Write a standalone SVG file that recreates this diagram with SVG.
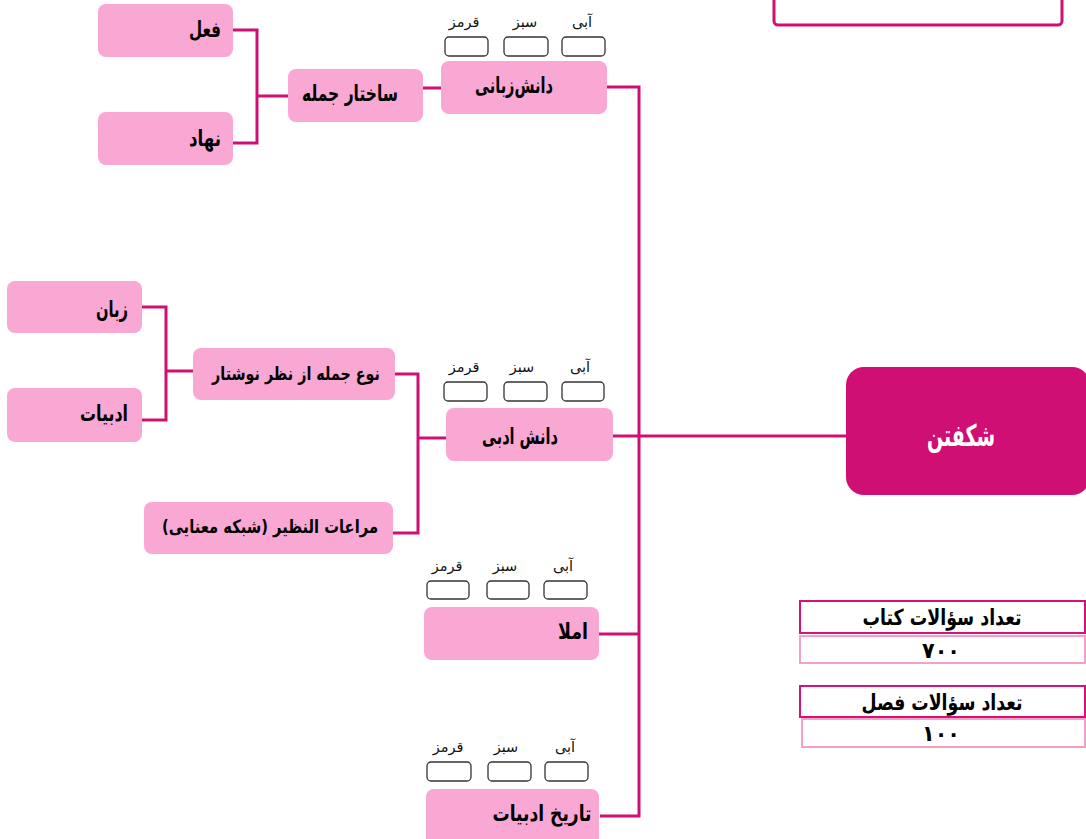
<svg xmlns="http://www.w3.org/2000/svg" width="1086" height="839" viewBox="0 0 1086 839">
<style>
text{font-family:"DejaVu Sans",sans-serif}
.t{direction:rtl;unicode-bidi:embed;font-size:22px;font-weight:bold;fill:#000}
.n{fill:#f9a8d4}
.c{text-anchor:middle}
.cb{fill:#fff;stroke:#333;stroke-width:1.3}
.cl{font-size:14.5px;fill:#111;text-anchor:middle}
.ln{stroke:#cf0f73;stroke-width:3;fill:none}
.tb1{fill:#fff;stroke:#d4127a;stroke-width:2}
.tb2{fill:#fff;stroke:#f4a0c9;stroke-width:2}
</style>
<rect x="774" y="-10" width="288" height="35" rx="4" fill="#fff" stroke="#cf0f73" stroke-width="3"/>
<g id="connectors" class="ln">
<polyline points="233,30 257,30 257,143 233,143"/>
<line x1="257" y1="96" x2="288" y2="96"/>
<line x1="423" y1="88" x2="446" y2="88"/>
<polyline points="607,87 639,87 639,816 600,816"/>
<line x1="613" y1="436" x2="846" y2="436"/>
<line x1="599" y1="634" x2="639" y2="634"/>
<polyline points="395,374 418,374 418,533 393,533"/>
<line x1="418" y1="438" x2="446" y2="438"/>
<polyline points="142,307 166,307 166,420 142,420"/>
<line x1="166" y1="371" x2="193" y2="371"/>
</g>
<g id="n-fel"><rect class="n" x="98" y="4" width="135" height="53" rx="8"/><text class="t c" x="205" y="37" textLength="32" lengthAdjust="spacingAndGlyphs">فعل</text></g>
<g id="n-nahad"><rect class="n" x="98" y="112" width="135" height="53" rx="8"/><text class="t c" x="205" y="146" textLength="32" lengthAdjust="spacingAndGlyphs">نهاد</text></g>
<g id="n-sakhtar"><rect class="n" x="288" y="69" width="135" height="53" rx="8"/><text class="t c" x="350" y="101" textLength="96" lengthAdjust="spacingAndGlyphs">ساختار جمله</text></g>
<g id="n-zabani"><rect class="n" x="441" y="61" width="166" height="53" rx="8"/><text class="t c" x="514" y="93" textLength="78" lengthAdjust="spacingAndGlyphs">دانش&#x200C;زبانی</text>
<rect class="cb" x="445" y="37" width="43" height="19" rx="4"/><rect class="cb" x="504" y="37" width="44" height="19" rx="4"/><rect class="cb" x="562" y="37" width="43" height="19" rx="4"/>
<text class="cl" x="464" y="27">قرمز</text><text class="cl" x="525" y="27">سبز</text><text class="cl" x="582" y="27">آبی</text></g>
<g id="n-zaban"><rect class="n" x="7" y="281" width="135" height="52" rx="8"/><text class="t c" x="112" y="317" textLength="32" lengthAdjust="spacingAndGlyphs">زبان</text></g>
<g id="n-adabiat"><rect class="n" x="7" y="388" width="135" height="54" rx="8"/><text class="t c" x="104" y="421" textLength="48" lengthAdjust="spacingAndGlyphs">ادبیات</text></g>
<g id="n-noe"><rect class="n" x="193" y="348" width="202" height="52" rx="8"/><text class="t c" x="296" y="380" style="font-size:18.5px" textLength="168" lengthAdjust="spacingAndGlyphs">نوع جمله از نظر نوشتار</text></g>
<g id="n-moraat"><rect class="n" x="144" y="502" width="249" height="52" rx="8"/><text class="t c" x="270" y="533" style="font-size:18.5px" textLength="216" lengthAdjust="spacingAndGlyphs">مراعات النظیر (شبکه معنایی)</text></g>
<g id="n-adabi"><rect class="n" x="446" y="408" width="167" height="53" rx="8"/><text class="t c" x="520" y="444" textLength="76" lengthAdjust="spacingAndGlyphs">دانش ادبی</text>
<rect class="cb" x="444" y="382" width="43" height="19" rx="4"/><rect class="cb" x="504" y="382" width="43" height="19" rx="4"/><rect class="cb" x="562" y="382" width="42" height="19" rx="4"/>
<text class="cl" x="464" y="372">قرمز</text><text class="cl" x="522" y="372">سبز</text><text class="cl" x="580" y="372">آبی</text></g>
<g id="n-imla"><rect class="n" x="424" y="607" width="175" height="53" rx="8"/><text class="t c" x="573" y="639" textLength="30" lengthAdjust="spacingAndGlyphs">املا</text>
<rect class="cb" x="427" y="581" width="42" height="18" rx="4"/><rect class="cb" x="487" y="581" width="42" height="18" rx="4"/><rect class="cb" x="544" y="581" width="43" height="18" rx="4"/>
<text class="cl" x="447" y="571">قرمز</text><text class="cl" x="505" y="571">سبز</text><text class="cl" x="563" y="571">آبی</text></g>
<g id="n-tarikh"><rect class="n" x="426" y="789" width="173" height="60" rx="8"/><text class="t c" x="542" y="821" textLength="99" lengthAdjust="spacingAndGlyphs">تاریخ ادبیات</text>
<rect class="cb" x="427" y="762" width="44" height="19" rx="4"/><rect class="cb" x="488" y="762" width="43" height="19" rx="4"/><rect class="cb" x="545" y="762" width="43" height="19" rx="4"/>
<text class="cl" x="448" y="752">قرمز</text><text class="cl" x="506" y="752">سبز</text><text class="cl" x="565" y="752">آبی</text></g>
<g id="n-root"><rect x="846" y="367" width="244" height="128" rx="18" fill="#cf0f73"/><text class="t c" x="961" y="446" style="font-size:30px;fill:#fff" textLength="68" lengthAdjust="spacingAndGlyphs">شکفتن</text></g>
<g id="table">
<rect class="tb1" x="800" y="601" width="285" height="32"/><text class="t c" x="942" y="625" textLength="159" lengthAdjust="spacingAndGlyphs">تعداد سؤالات کتاب</text>
<rect class="tb2" x="800" y="636" width="285" height="27"/><text class="t c" x="941" y="658" textLength="38" lengthAdjust="spacingAndGlyphs">۷۰۰</text>
<rect class="tb1" x="800" y="686" width="285" height="31"/><text class="t c" x="942" y="710" textLength="161" lengthAdjust="spacingAndGlyphs">تعداد سؤالات فصل</text>
<rect class="tb2" x="802" y="719" width="283" height="28"/><text class="t c" x="941" y="741" textLength="38" lengthAdjust="spacingAndGlyphs">۱۰۰</text>
</g>
</svg>
